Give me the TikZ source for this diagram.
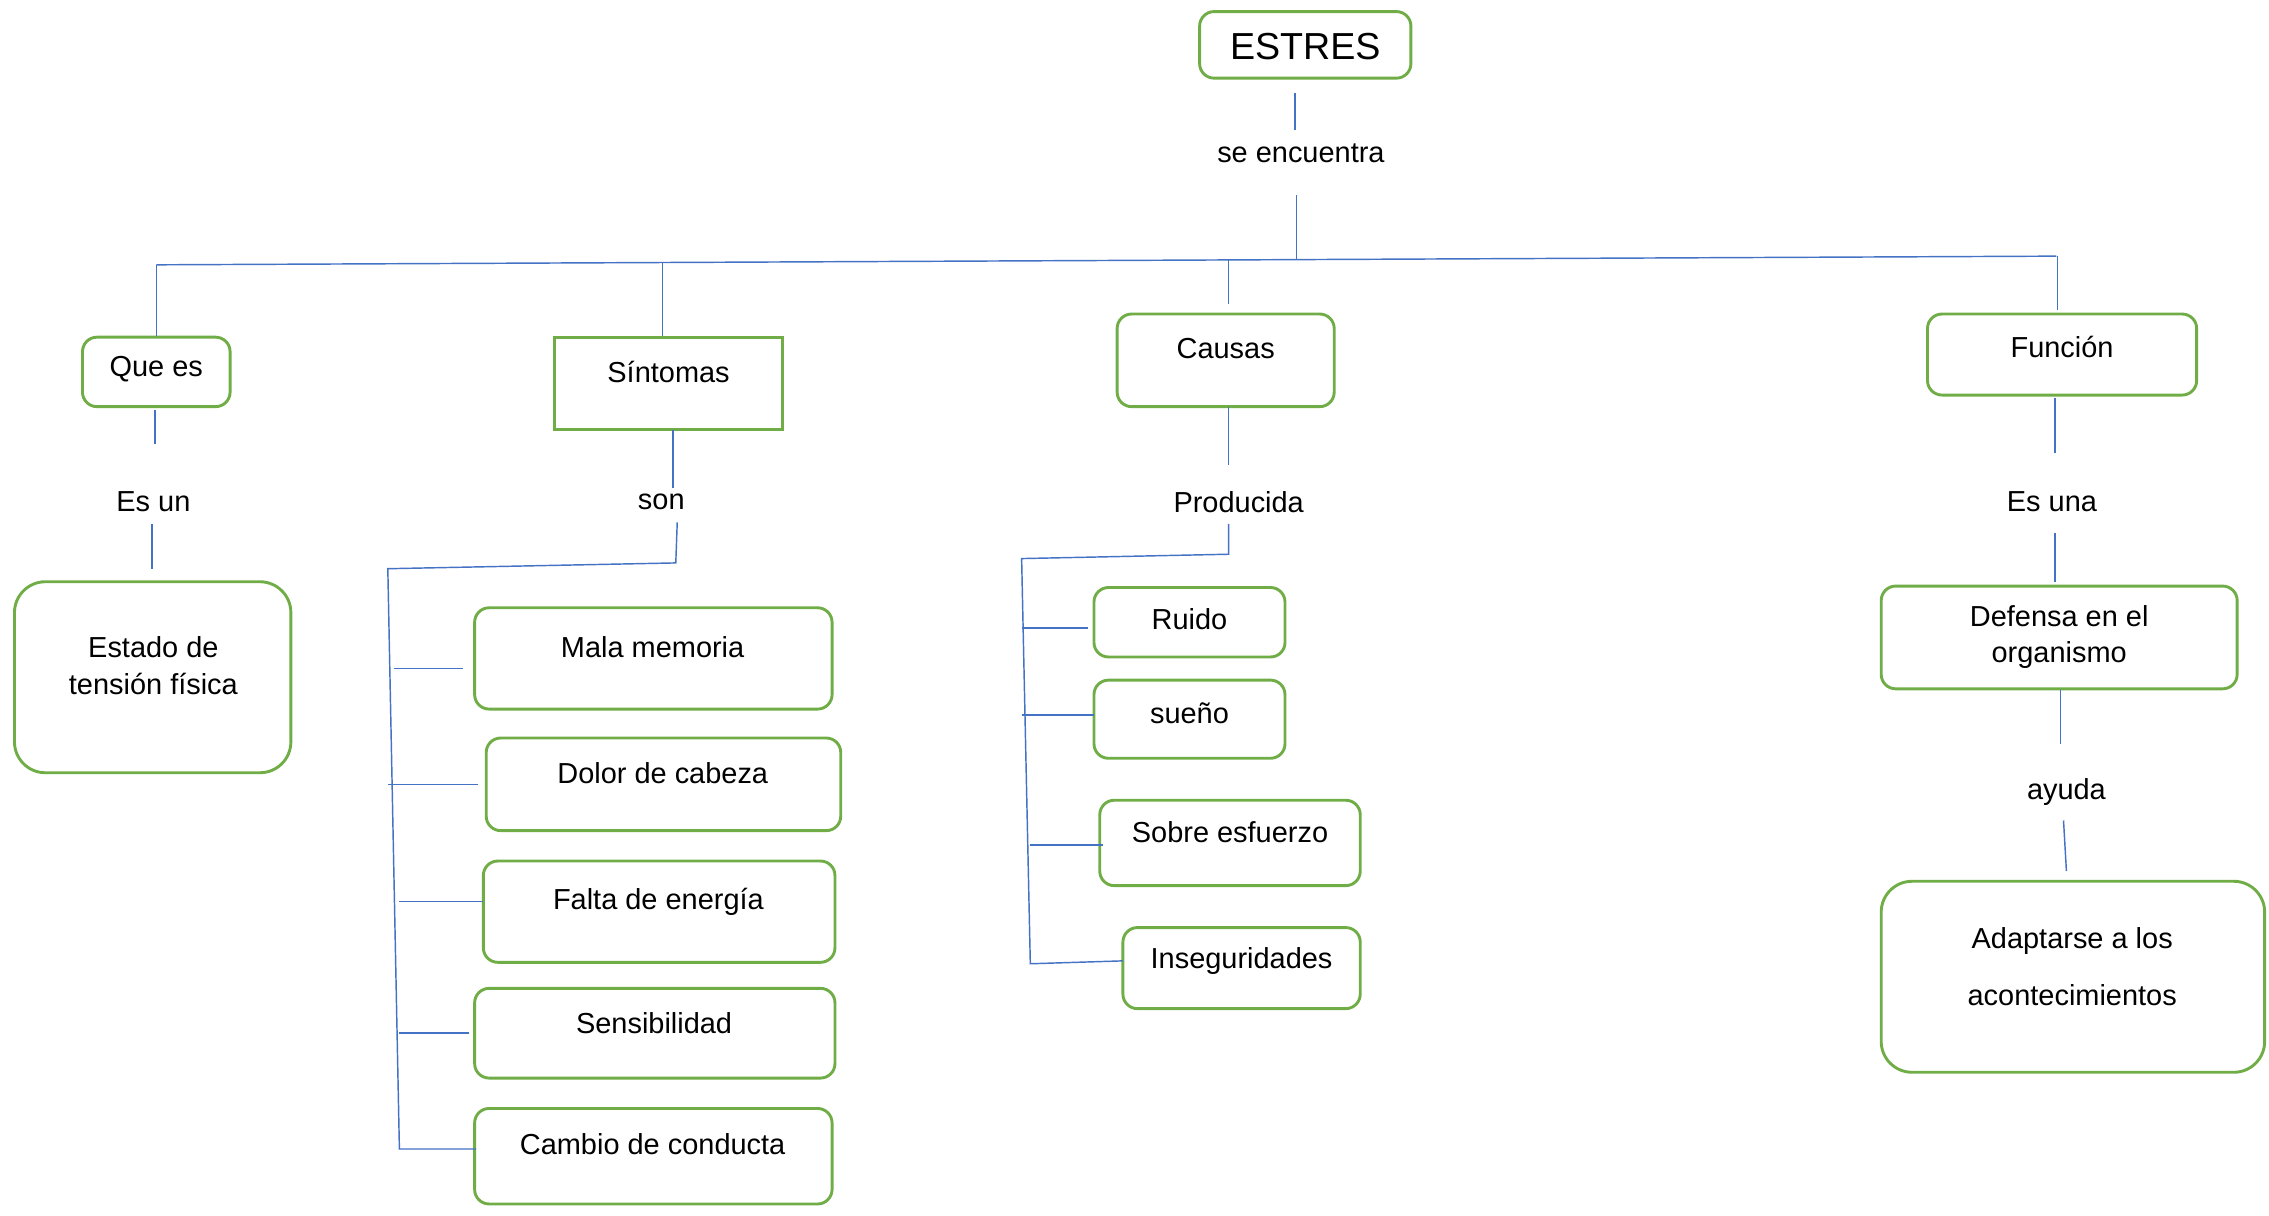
\documentclass[tikz,border=0pt]{standalone}
\usepackage{fontspec}
\setmainfont{Liberation Sans}
\usetikzlibrary{fit}
\definecolor{boxgreen}{HTML}{70AD47}
\definecolor{lineblue}{HTML}{4472C4}
\begin{document}
\begin{tikzpicture}[x=0.75pt,y=-0.75pt,
  box/.style={draw=boxgreen, line width=1.5pt, rounded corners=7.5pt, inner sep=0pt, fit={#1}},
  bigbox/.style={box={#1}, rounded corners=16pt},
  sqbox/.style={box={#1}, sharp corners},
  txt/.style={font=\fontsize{15}{18.75}\selectfont, inner sep=0pt, align=center},
  lk/.style={draw=lineblue, line width=0.75pt}]
\useasboundingbox (0,0) rectangle (1568,840);

% boxes
\node[box={(829,8)(975,54)}] (estres) {};
\node[box={(57,233)(159,281)}] (quees) {};
\node[bigbox={(10,402)(201,534)}] (estado) {};
\node[sqbox={(383,233)(541,297)}] (sintomas) {};
\node[box={(328,420)(575,490)}] (mala) {};
\node[box={(336,510)(581,574)}] (dolor) {};
\node[box={(334,595)(577,665)}] (falta) {};
\node[box={(328,683)(577,745)}] (sensi) {};
\node[box={(328,766)(575,832)}] (cambio) {};
\node[box={(772,217)(922,281)}] (causas) {};
\node[box={(756,406)(888,454)}] (ruido) {};
\node[box={(756,470)(888,524)}] (sueno) {};
\node[box={(760,553)(940,612)}] (sobre) {};
\node[box={(776,641)(940,697)}] (inseg) {};
\node[box={(1332,217)(1518,273)}] (funcion) {};
\node[box={(1300,405)(1546,476)}] (defensa) {};
\node[bigbox={(1300,609)(1565,741)}] (adapt) {};

% texts
\node[txt, font=\fontsize{19.5}{23}\selectfont] (testres) at (902,32) {ESTRES};
\node[txt] (tseenc) at (899,106) {se encuentra};
\node[txt] (tquees) at (108,255) {Que es};
\node[txt] (tesun) at (106,347) {Es un};
\node[txt] (testado) at (106,460) {Estado de\\tensión física};
\node[txt] (tsint) at (462,257) {Síntomas};
\node[txt] (tson) at (457,347) {son};
\node[txt] (tmala) at (451,447) {Mala memoria};
\node[txt] (tdolor) at (458,534) {Dolor de cabeza};
\node[txt] (tfalta) at (455,623) {Falta de energía};
\node[txt] (tsensi) at (452,707) {Sensibilidad};
\node[txt] (tcambio) at (451,791) {Cambio de conducta};
\node[txt] (tcausas) at (847,241) {Causas};
\node[txt] (tprod) at (856,347) {Producida};
\node[txt] (truido) at (822,428) {Ruido};
\node[txt] (tsueno) at (822,493) {sueño};
\node[txt] (tsobre) at (850,575) {Sobre esfuerzo};
\node[txt] (tinseg) at (858,664) {Inseguridades};
\node[txt] (tfuncion) at (1425,240) {Función};
\node[txt] (tesuna) at (1418,347) {Es una};
\node[txt] (tdefensa) at (1423,440) {Defensa en el\\organismo};
\node[txt] (tayuda) at (1428,547) {ayuda};
\node[txt, font=\fontsize{15}{30}\selectfont] (tadapt) at (1432,668) {Adaptarse a los\\acontecimientos};

% connector end points
\coordinate (a1) at (895,64);   \coordinate (a2) at (895,90);
\coordinate (b1) at (896,135);  \coordinate (b2) at (896,180);
\coordinate (mL) at (108,183);  \coordinate (mR) at (1421,177);
\coordinate (q1) at (108,232);
\coordinate (s0) at (458,181.5); \coordinate (s1) at (458,232);
\coordinate (c0) at (849,180);  \coordinate (c1) at (849,210);
\coordinate (f0) at (1422,177); \coordinate (f1) at (1422,214);
\coordinate (q2) at (107,283);  \coordinate (q3) at (107,307);
\coordinate (q4) at (105,362);  \coordinate (q5) at (105,393);
\coordinate (s2) at (465,297);  \coordinate (s3) at (465,337);
\coordinate (s4) at (468,361);  \coordinate (s5) at (467,389);
\coordinate (s6) at (268,393);  \coordinate (s7) at (276,794);
\coordinate (s8) at (329,794);
\coordinate (t1a) at (272,462); \coordinate (t1b) at (320,462);
\coordinate (t2a) at (268,542); \coordinate (t2b) at (330,542);
\coordinate (t3a) at (276,623); \coordinate (t3b) at (334,623);
\coordinate (t4a) at (276,714); \coordinate (t4b) at (324,714);
\coordinate (c2) at (849,281);  \coordinate (c3) at (849,321);
\coordinate (c4) at (849,362);  \coordinate (c5) at (849,383);
\coordinate (c6) at (706,386);  \coordinate (c7) at (712,666);
\coordinate (c8) at (776,664);
\coordinate (u1a) at (706,434); \coordinate (u1b) at (752,434);
\coordinate (u2a) at (706,494); \coordinate (u2b) at (756,494);
\coordinate (u3a) at (712,584); \coordinate (u3b) at (762,584);
\coordinate (f2) at (1420,275); \coordinate (f3) at (1420,313);
\coordinate (f4) at (1420,368); \coordinate (f5) at (1420,402);
\coordinate (f6) at (1424,477); \coordinate (f7) at (1424,514);
\coordinate (f8) at (1426,567); \coordinate (f9) at (1428,602);

% connectors
\draw[lk] (a1) -- (a2);
\draw[lk] (b1) -- (b2);
\draw[lk] (mL) -- (mR);
\draw[lk] (mL) -- (q1);
\draw[lk] (s0) -- (s1);
\draw[lk] (c0) -- (c1);
\draw[lk] (f0) -- (f1);
\draw[lk] (q2) -- (q3);
\draw[lk] (q4) -- (q5);
\draw[lk] (s2) -- (s3);
\draw[lk] (s4) -- (s5) -- (s6) -- (s7) -- (s8);
\draw[lk] (t1a) -- (t1b);
\draw[lk] (t2a) -- (t2b);
\draw[lk] (t3a) -- (t3b);
\draw[lk] (t4a) -- (t4b);
\draw[lk] (c2) -- (c3);
\draw[lk] (c4) -- (c5) -- (c6) -- (c7) -- (c8);
\draw[lk] (u1a) -- (u1b);
\draw[lk] (u2a) -- (u2b);
\draw[lk] (u3a) -- (u3b);
\draw[lk] (f2) -- (f3);
\draw[lk] (f4) -- (f5);
\draw[lk] (f6) -- (f7);
\draw[lk] (f8) -- (f9);
\end{tikzpicture}
\end{document}
